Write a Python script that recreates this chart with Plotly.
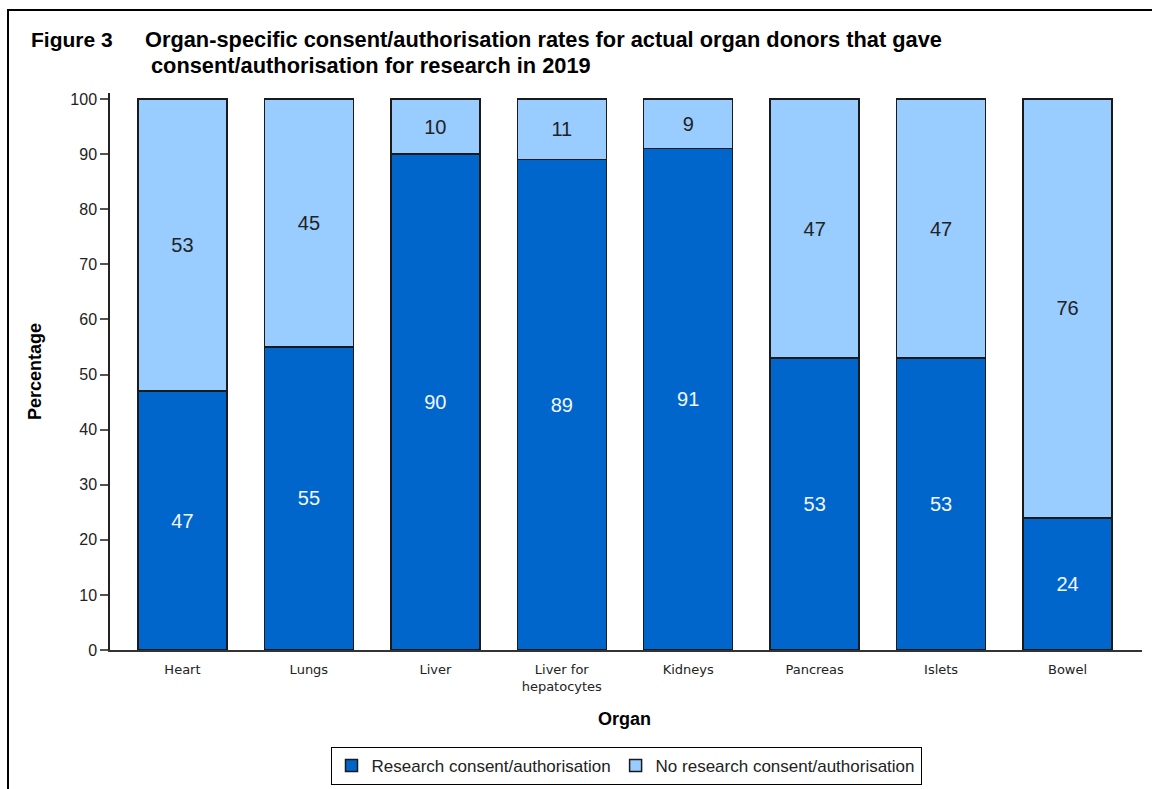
import plotly.graph_objects as go

organs = ["Heart", "Lungs", "Liver", "Liver for<br>hepatocytes", "Kidneys", "Pancreas", "Islets", "Bowel"]
research = [47, 55, 90, 89, 91, 53, 53, 24]
no_research = [53, 45, 10, 11, 9, 47, 47, 76]

W, H = 1152, 789
L, R, T, B = 110, 10, 93, 139
PW, PH = W - L - R, H - T - B

def px(x):
    return (x - L) / PW

def py(y):
    return (H - B - y) / PH

xs = list(range(len(organs)))
FONT = "Liberation Sans, Arial"

fig = go.Figure()
fig.add_trace(go.Bar(
    x=xs, y=research, name="Research consent/authorisation",
    marker=dict(color="#0066CC", line=dict(color="#1a1a1a", width=1.5)),
    text=[str(v) for v in research], textposition="inside", insidetextanchor="middle",
    textfont=dict(color="#f2f6ff", size=20, family=FONT),
    width=0.704,
))
fig.add_trace(go.Bar(
    x=xs, y=no_research, name="No research consent/authorisation",
    marker=dict(color="#99CCFF", line=dict(color="#1a1a1a", width=1.5)),
    text=[str(v) for v in no_research], textposition="inside", insidetextanchor="middle",
    textfont=dict(color="#222222", size=20, family=FONT),
    width=0.704,
))

fig.update_layout(
    width=W, height=H, barmode="stack",
    margin=dict(l=L, r=R, t=T, b=B, autoexpand=False),
    paper_bgcolor="white", plot_bgcolor="white",
    font=dict(family=FONT, color="#222222"),
    uniformtext=dict(minsize=10, mode="show"),
    showlegend=True,
    legend=dict(orientation="h", x=0.5, xanchor="center", y=py(747), yanchor="top",
                bordercolor="black", borderwidth=1, font=dict(size=17, color="#222222"),
                itemwidth=30, traceorder="normal", bgcolor="white"),
    xaxis=dict(range=[-0.573, 7.589], tickmode="array", tickvals=xs, ticktext=organs,
               showline=True, linecolor="#333333", linewidth=1.5,
               ticks="outside", ticklen=7, tickcolor="rgba(0,0,0,0)",
               tickfont=dict(size=13, color="#222222", family="DejaVu Sans"),
               showgrid=False, zeroline=False, automargin=False),
    yaxis=dict(range=[0, 101.1], tickvals=list(range(0, 101, 10)),
               showline=True, linecolor="#222222", linewidth=1.5,
               ticks="outside", ticklen=8, tickcolor="#555555", tickwidth=1.5,
               tickfont=dict(size=16, color="#222222"), showgrid=False, zeroline=False,
               automargin=False),
    shapes=[dict(type="rect", xref="paper", yref="paper",
                 x0=px(8), x1=px(1200), y0=py(850), y1=py(10),
                 line=dict(color="black", width=2), fillcolor="rgba(0,0,0,0)", layer="below")],
    annotations=[
        dict(text="<b>Figure 3</b>", xref="paper", yref="paper", x=px(29), y=py(40),
             xanchor="left", yanchor="middle", showarrow=False,
             font=dict(size=21, color="black")),
        dict(text="<b>Organ-specific consent/authorisation rates for actual organ donors that gave</b>",
             xref="paper", yref="paper", x=px(143), y=py(40),
             xanchor="left", yanchor="middle", showarrow=False,
             font=dict(size=21.8, color="black")),
        dict(text="<b>consent/authorisation for research in 2019</b>",
             xref="paper", yref="paper", x=px(149), y=py(65),
             xanchor="left", yanchor="middle", showarrow=False,
             font=dict(size=21.8, color="black")),
        dict(text="<b>Organ</b>", xref="paper", yref="paper", x=px(624), y=py(719),
             xanchor="center", yanchor="middle", showarrow=False,
             font=dict(size=18, color="black")),
        dict(text="<b>Percentage</b>", xref="paper", yref="paper", x=px(35), y=py(372),
             xanchor="center", yanchor="middle", showarrow=False, textangle=-90,
             font=dict(size=18, color="black")),
    ],
)

fig.write_html("out.html")
